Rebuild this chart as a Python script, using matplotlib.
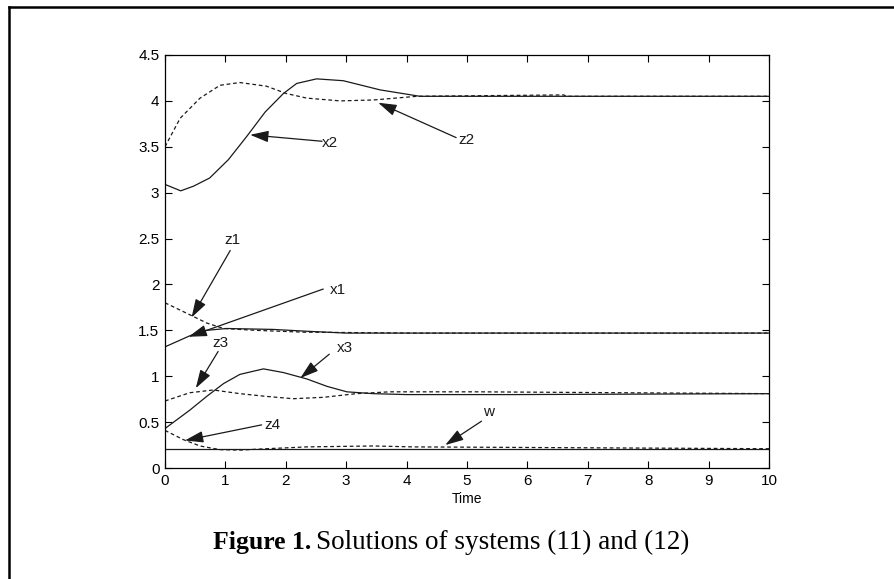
import matplotlib
matplotlib.use("Agg")
import matplotlib.pyplot as plt
from matplotlib.lines import Line2D

# courbes (temps, valeur)
x2_t = [0, 0.26, 0.47, 0.74, 1.05, 1.35, 1.66, 1.96, 2.18, 2.51, 2.95, 3.56, 4.22, 10]
x2_v = [3.09, 3.02, 3.07, 3.16, 3.36, 3.61, 3.88, 4.08, 4.19, 4.24, 4.22, 4.12, 4.05, 4.05]
z2_t = [0, 0.25, 0.58, 0.91, 1.24, 1.68, 2.01, 2.35, 2.9, 3.45, 4.17, 6.6, 6.65, 10]
z2_v = [3.5, 3.81, 4.03, 4.17, 4.2, 4.16, 4.08, 4.03, 4.0, 4.01, 4.05, 4.065, 4.05, 4.05]

x1_t = [0, 0.41, 0.69, 1.02, 1.79, 2.35, 3.0, 10]
x1_v = [1.32, 1.44, 1.50, 1.52, 1.51, 1.49, 1.47, 1.47]
z1_t = [0, 0.41, 0.69, 0.97, 1.5, 2.3, 4.1, 10]
z1_v = [1.80, 1.67, 1.58, 1.52, 1.50, 1.48, 1.47, 1.47]

x3_t = [0, 0.41, 0.69, 0.97, 1.24, 1.63, 1.96, 2.35, 2.68, 3.01, 3.45, 4.0, 5.8, 10]
x3_v = [0.43, 0.63, 0.78, 0.92, 1.02, 1.08, 1.04, 0.97, 0.89, 0.83, 0.81, 0.80, 0.80, 0.81]
z3_t = [0, 0.41, 0.8, 1.24, 1.68, 2.12, 2.62, 3.17, 3.72, 5.2, 10]
z3_v = [0.73, 0.82, 0.85, 0.81, 0.78, 0.755, 0.77, 0.81, 0.83, 0.83, 0.81]

z4_t = [0, 0.3, 0.58, 0.91, 1.24, 1.68, 2.35, 3.45, 4.1, 10]
z4_v = [0.41, 0.31, 0.24, 0.20, 0.195, 0.21, 0.23, 0.24, 0.23, 0.21]
w_t = [0, 10]
w_v = [0.21, 0.21]

# etiquettes : nom, position du texte, debut de fleche, pointe
lab_names = ['x2', 'z2', 'z1', 'x1', 'z3', 'x3', 'z4', 'w']
lab_text = [(2.6, 3.54), (4.85, 3.57), (0.98, 2.48), (2.73, 1.94), (0.78, 1.36), (2.85, 1.31), (1.64, 0.47), (5.27, 0.61)]
lab_from = [(2.6, 3.56), (4.82, 3.6), (1.08, 2.37), (2.62, 1.95), (0.88, 1.27), (2.72, 1.24), (1.6, 0.47), (5.24, 0.51)]
lab_tip = [(1.41, 3.63), (3.53, 3.98), (0.44, 1.64), (0.39, 1.43), (0.51, 0.87), (2.24, 0.98), (0.33, 0.30), (4.64, 0.25)]

plt.rcParams['font.family'] = ['Liberation Sans', 'DejaVu Sans']

fig = plt.figure(figsize=(8.94, 5.79), dpi=100)
ax = fig.add_axes([165/894, 1-468/579, 604/894, 413/579])

col = '#1a1a1a'
dash = (0, (3, 2.2))
ax.plot(x2_t, x2_v, color=col, lw=0.9)
ax.plot(z2_t, z2_v, color=col, lw=0.9, linestyle=dash)
ax.plot(x1_t, x1_v, color=col, lw=0.9)
ax.plot(z1_t, z1_v, color=col, lw=0.9, linestyle=dash)
ax.plot(x3_t, x3_v, color=col, lw=0.9)
ax.plot(z3_t, z3_v, color=col, lw=0.9, linestyle=dash)
ax.plot(z4_t, z4_v, color=col, lw=0.9, linestyle=dash)
ax.plot(w_t, w_v, color=col, lw=0.9)

for k in range(len(lab_names)):
  ax.annotate('', xy=lab_tip[k], xytext=lab_from[k],
              arrowprops=dict(arrowstyle='-|>,head_length=0.7,head_width=0.22', color=col, lw=0.9,
                              mutation_scale=16, shrinkA=0, shrinkB=0))
  ax.text(lab_text[k][0], lab_text[k][1], lab_names[k], fontsize=11, ha='left', va='center', color=col)

ax.set_xlim(0, 10)
ax.set_ylim(0, 4.5)
ax.set_xticks(range(0, 11))
ax.set_yticks([0, 0.5, 1, 1.5, 2, 2.5, 3, 3.5, 4, 4.5])
ax.set_yticklabels(['0', '0.5', '1', '1.5', '2', '2.5', '3', '3.5', '4', '4.5'])
ax.tick_params(direction='in', top=True, right=True, labelsize=11, length=5, width=0.8, pad=4)
for s in ax.spines.values():
  s.set_linewidth(0.9)
ax.set_xlabel('Time', fontsize=10, labelpad=3)

# cadre autour de la figure
fig.add_artist(Line2D([8.5/894, 8.5/894], [0, 1-7/579], color='k', lw=1.8, transform=fig.transFigure))
fig.add_artist(Line2D([8.5/894, 1], [1-7/579, 1-7/579], color='k', lw=1.8, transform=fig.transFigure))

# legende de la figure
fig.text(213/894, 1-549/579, 'Figure 1.', fontsize=18.5, fontweight='bold', family='Liberation Serif', va='baseline', ha='left')
fig.text(316/894, 1-549/579, 'Solutions of systems (11) and (12)', fontsize=19.5, family='Liberation Serif', va='baseline', ha='left')

fig.savefig('out.png', dpi=100)
